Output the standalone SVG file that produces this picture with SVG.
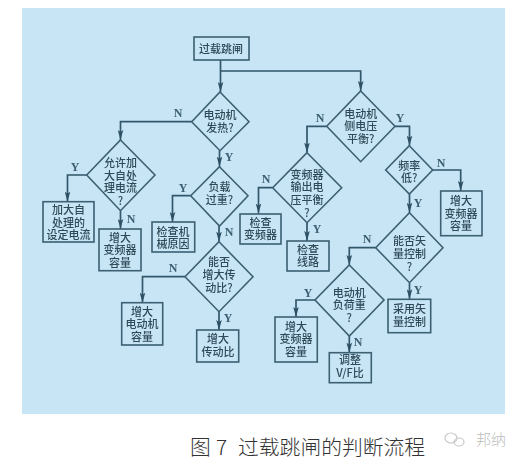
<svg xmlns="http://www.w3.org/2000/svg" width="524" height="464" viewBox="0 0 524 464">
<style>
.s{fill:none;stroke:#3d6072;stroke-width:1.6}
.c{fill:none;stroke:#33566a;stroke-width:1.7}
.t{font-family:"Noto Sans CJK SC","Liberation Sans",sans-serif;font-size:11px;font-weight:500;fill:#2f4a58;text-anchor:middle}
.l{font-family:"Liberation Serif",serif;font-size:12px;font-weight:bold;fill:#3d6072;text-anchor:middle}
.cap{font-family:"Noto Sans CJK SC","Liberation Sans",sans-serif;font-size:20.800px;fill:#333;font-weight:300}
.w{font-family:"Noto Sans CJK SC",sans-serif;font-size:15px;fill:#bdbdbd;font-weight:300}
</style>
<defs>
<marker id="h" markerUnits="userSpaceOnUse" markerWidth="10" markerHeight="6" refX="10" refY="3" orient="auto" viewBox="0 0 10 6"><path d="M0 0.2L2 3L0 5.800L10 3z" fill="#2f5165"/></marker>
<filter id="b" x="-2%" y="-2%" width="104%" height="104%"><feGaussianBlur stdDeviation="0.35"/></filter>
</defs>
<rect width="524" height="464" fill="#fff"/>
<rect x="22" y="8" width="483" height="406" fill="#c7e5f5"/>
<g filter="url(#b)">
<g id="connectors">
<path class="c" marker-end="url(#h)" d="M220.5 60V92"/>
<path class="c" marker-end="url(#h)" d="M220.5 71H360.7V91"/>
<path class="c" marker-end="url(#h)" d="M191.7 121.7H120.5V140"/>
<path class="c" marker-end="url(#h)" d="M86.7 175H67.5V201.7"/>
<path class="c" marker-end="url(#h)" d="M120.5 210.7V229"/>
<path class="c" marker-end="url(#h)" d="M219.5 150.7V166.7"/>
<path class="c" marker-end="url(#h)" d="M190.7 195.7H172.5V222"/>
<path class="c" marker-end="url(#h)" d="M219 226V241.7"/>
<path class="c" marker-end="url(#h)" d="M185 276.7H142.5V302.7"/>
<path class="c" marker-end="url(#h)" d="M219 311.7V330"/>
<path class="c" marker-end="url(#h)" d="M326.7 126.3H307V152.7"/>
<path class="c" marker-end="url(#h)" d="M272.7 187.7H258.5V213.5"/>
<path class="c" marker-end="url(#h)" d="M307 222.7V241"/>
<path class="c" marker-end="url(#h)" d="M395 126.3H409.5V145.7"/>
<path class="c" marker-end="url(#h)" d="M432.7 170H460.7V191"/>
<path class="c" marker-end="url(#h)" d="M409.5 194V212.7"/>
<path class="c" marker-end="url(#h)" d="M375.7 247.7H349.3V265"/>
<path class="c" marker-end="url(#h)" d="M315 300H296V317"/>
<path class="c" marker-end="url(#h)" d="M349.3 336V352.7"/>
<path class="c" marker-end="url(#h)" d="M409.5 282.7V299.3"/>
</g>
<g id="labels">
<text class="l" x="178" y="117">N</text>
<text class="l" x="75" y="171">Y</text>
<text class="l" x="131" y="223">N</text>
<text class="l" x="229" y="161">Y</text>
<text class="l" x="183" y="192">Y</text>
<text class="l" x="229" y="236">N</text>
<text class="l" x="173" y="272">N</text>
<text class="l" x="228" y="322">Y</text>
<text class="l" x="320" y="122">N</text>
<text class="l" x="266" y="183">N</text>
<text class="l" x="317" y="233">Y</text>
<text class="l" x="400" y="122">Y</text>
<text class="l" x="441" y="167">N</text>
<text class="l" x="418" y="207">Y</text>
<text class="l" x="367" y="243">N</text>
<text class="l" x="308" y="297">Y</text>
<text class="l" x="358" y="346">N</text>
<text class="l" x="418" y="294">Y</text>
</g>
<g id="start"><rect class="s" x="194" y="37" width="55" height="23"/><text class="t" x="221" y="52.500">过载跳闸</text></g>
<g id="d1"><polygon class="s" points="220,92 249,121.700 220,150.700 191.700,121.700"/><text class="t"><tspan x="220" y="119">电动机</tspan><tspan x="220" y="132">发热?</tspan></text></g>
<g id="d2"><polygon class="s" points="120.500,140 155,175 120.500,210.700 86.700,175"/><text class="t"><tspan x="120.500" y="167">允许加</tspan><tspan x="120.500" y="179.500">大自处</tspan><tspan x="120.500" y="192">理电流</tspan><tspan x="120.500" y="204.500">?</tspan></text></g>
<g id="b1"><rect class="s" x="43" y="201.700" width="51" height="40.300"/><text class="t"><tspan x="68.500" y="214">加大自</tspan><tspan x="68.500" y="226.500">处理的</tspan><tspan x="68.500" y="239">设定电流</tspan></text></g>
<g id="b2"><rect class="s" x="99" y="229" width="42" height="41.700"/><text class="t"><tspan x="120" y="241.500">增大</tspan><tspan x="120" y="254">变频器</tspan><tspan x="120" y="266.500">容量</tspan></text></g>
<g id="d3"><polygon class="s" points="219.500,166.700 248,195.700 219.500,226 190.700,195.700"/><text class="t"><tspan x="219.500" y="190.500">负载</tspan><tspan x="219.500" y="204">过重?</tspan></text></g>
<g id="b3"><rect class="s" x="152" y="222" width="42.700" height="30"/><text class="t"><tspan x="173" y="235.500">检查机</tspan><tspan x="173" y="248">械原因</tspan></text></g>
<g id="d4"><polygon class="s" points="219,241.700 253,276.700 219,311.700 185,276.700"/><text class="t"><tspan x="219" y="266">能否</tspan><tspan x="219" y="279">增大传</tspan><tspan x="219" y="291.500">动比?</tspan></text></g>
<g id="b4"><rect class="s" x="121.700" y="302.700" width="41" height="42.300"/><text class="t"><tspan x="142" y="315.500">增大</tspan><tspan x="142" y="328">电动机</tspan><tspan x="142" y="341">容量</tspan></text></g>
<g id="b5"><rect class="s" x="196.700" y="330" width="42" height="32"/><text class="t"><tspan x="218" y="342.500">增大</tspan><tspan x="218" y="356">传动比</tspan></text></g>
<g id="d5"><polygon class="s" points="360.700,91 395,126.300 360.700,161.700 326.700,126.300"/><text class="t"><tspan x="360.700" y="117.500">电动机</tspan><tspan x="360.700" y="130">侧电压</tspan><tspan x="360.700" y="142.500">平衡?</tspan></text></g>
<g id="d6"><polygon class="s" points="307,152.700 341.700,187.700 307,222.700 272.700,187.700"/><text class="t"><tspan x="307" y="178.500">变频器</tspan><tspan x="307" y="191">输出电</tspan><tspan x="307" y="204">压平衡</tspan><tspan x="307" y="216.500">?</tspan></text></g>
<g id="b6"><rect class="s" x="240" y="214" width="41" height="30"/><text class="t"><tspan x="260.500" y="226.500">检查</tspan><tspan x="260.500" y="239">变频器</tspan></text></g>
<g id="b7"><rect class="s" x="287" y="241" width="42" height="30"/><text class="t"><tspan x="308" y="253.500">检查</tspan><tspan x="308" y="266">线路</tspan></text></g>
<g id="d7"><polygon class="s" points="409.300,145.700 432.700,170 409.300,194 385.700,170"/><text class="t"><tspan x="409.300" y="169.500">频率</tspan><tspan x="409.300" y="182">低?</tspan></text></g>
<g id="b8"><rect class="s" x="440.700" y="191" width="41.300" height="44.700"/><text class="t"><tspan x="461" y="205">增大</tspan><tspan x="461" y="217.500">变频器</tspan><tspan x="461" y="230">容量</tspan></text></g>
<g id="d8"><polygon class="s" points="409.500,212.700 443,247.700 409.500,282.700 375.700,247.700"/><text class="t"><tspan x="409.500" y="244.500">能否矢</tspan><tspan x="409.500" y="258">量控制</tspan><tspan x="409.500" y="270.500">?</tspan></text></g>
<g id="d9"><polygon class="s" points="349.300,265 384,300 349.300,336 315,300"/><text class="t"><tspan x="349.300" y="296.500">电动机</tspan><tspan x="349.300" y="309">负荷重</tspan><tspan x="349.300" y="321.500">?</tspan></text></g>
<g id="b9"><rect class="s" x="275" y="317" width="42.300" height="45"/><text class="t"><tspan x="296" y="330.500">增大</tspan><tspan x="296" y="343">变频器</tspan><tspan x="296" y="356">容量</tspan></text></g>
<g id="b10"><rect class="s" x="329.300" y="352.700" width="42" height="30"/><text class="t"><tspan x="350" y="364">调整</tspan><tspan x="350" y="377">V/F比</tspan></text></g>
<g id="b11"><rect class="s" x="388" y="299.300" width="42.700" height="33.400"/><text class="t"><tspan x="409.500" y="312.500">采用矢</tspan><tspan x="409.500" y="326">量控制</tspan></text></g>
</g>
<g id="caption"><text class="cap"><tspan x="190" y="455">图</tspan><tspan x="216" y="455">7</tspan><tspan x="238" y="455">过载跳闸的判断流程</tspan></text></g>
<g fill="none" stroke="#c9c9c9" stroke-width="1.2"><ellipse cx="451" cy="438" rx="6" ry="5"/><ellipse cx="459" cy="442" rx="5" ry="4"/></g>
<text class="w" x="476" y="445">邦纳</text>
</svg>
